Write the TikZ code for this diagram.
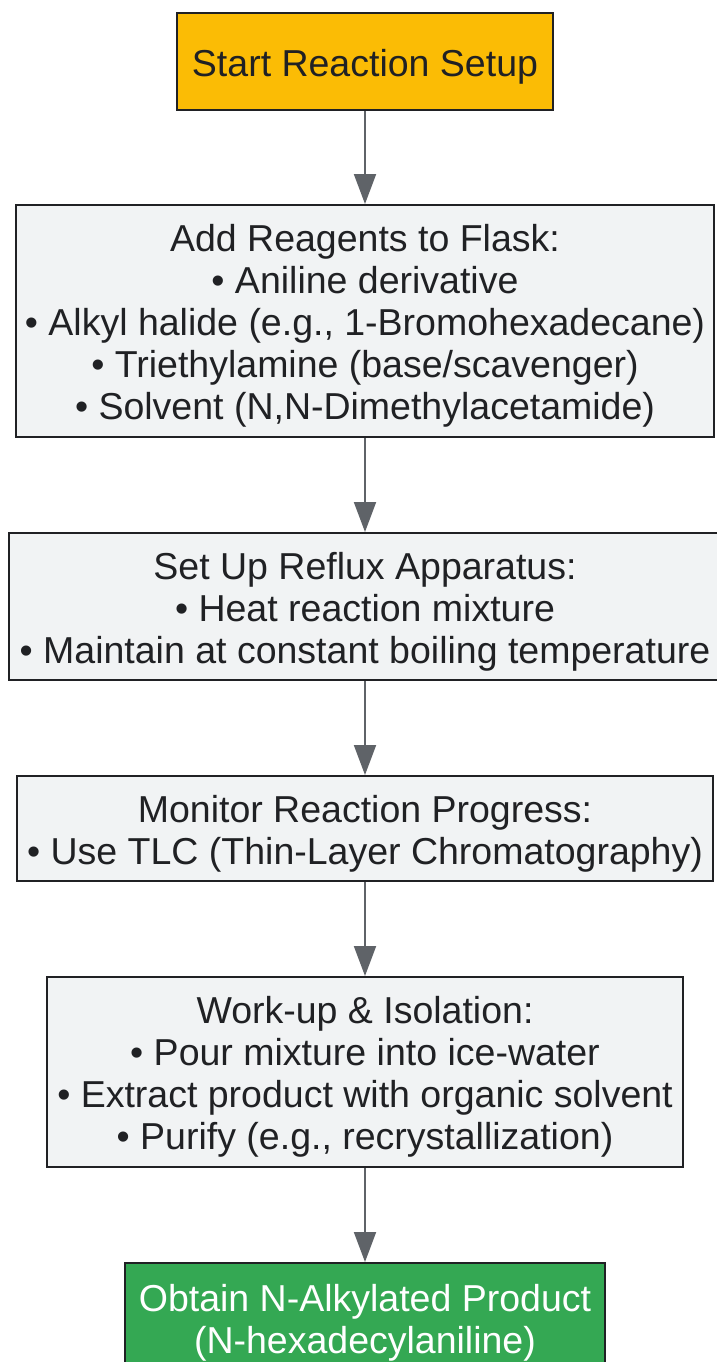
\documentclass[tikz,border=0pt]{standalone}
\usepackage{fontspec}
\setmainfont{Liberation Sans}
\usetikzlibrary{arrows.meta}
\definecolor{stepfill}{HTML}{F1F3F4}
\definecolor{stepline}{HTML}{202124}
\definecolor{startfill}{HTML}{FBBC05}
\definecolor{endfill}{HTML}{34A853}
\definecolor{flowgray}{HTML}{5F6368}
\newcommand\stepstrut{\rule{0pt}{37pt}}
\tikzset{
  stepbox/.style={draw=stepline, line width=2pt, fill=stepfill, text=stepline,
    align=center, inner sep=0pt, font=\fontsize{37.5}{42}\selectfont},
  flow/.style={draw=flowgray, line width=2pt, -{Triangle[length=30pt,width=22pt]}}
}
\begin{document}
\begin{tikzpicture}[x=1pt,y=-1pt]
	\useasboundingbox (0,0) rectangle (717,1362);

            \node[stepbox, fill=startfill, minimum width=376pt, minimum height=97pt]
              (start) at (365,61.5) {\stepstrut Start Reaction Setup};
            \node[stepbox, minimum width=698pt, minimum height=232pt] (reagents) at (365,321)
              {\stepstrut Add Reagents to Flask:\\ • Aniline derivative\\ • Alkyl halide (e.g., 1-Bromohexadecane)\\
               • Triethylamine (base/scavenger)\\ • Solvent (N,N-Dimethylacetamide)};
            \node[stepbox, minimum width=712pt, minimum height=147pt] (reflux) at (365,606.5)
              {\stepstrut Set Up Reflux Apparatus:\\ • Heat reaction mixture\\ • Maintain at constant boiling temperature};
            \node[stepbox, minimum width=696pt, minimum height=105pt] (monitor) at (365,828.5)
              {\stepstrut Monitor Reaction Progress:\\ • Use TLC (Thin-Layer Chromatography)};
            \node[stepbox, minimum width=636pt, minimum height=190pt] (workup) at (365,1072)
              {\stepstrut Work-up \& Isolation:\\ • Pour mixture into ice-water\\ • Extract product with organic solvent\\
               • Purify (e.g., recrystallization)};
            \node[stepbox, fill=endfill, text=white, minimum width=480pt, minimum height=109pt]
              (product) at (365,1317.5) {\stepstrut Obtain N-Alkylated Product\\ (N-hexadecylaniline)};

            \draw[flow] (start) -- (reagents);
            \draw[flow] (reagents) -- (reflux);
            \draw[flow] (reflux) -- (monitor);
            \draw[flow] (monitor) -- (workup);
            \draw[flow] (workup) -- (product);
        \end{tikzpicture}
\end{document}
